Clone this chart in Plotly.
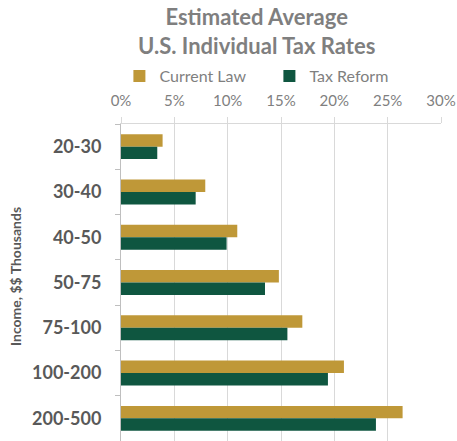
import plotly.graph_objects as go

categories = ["20-30", "30-40", "40-50", "50-75", "75-100", "100-200", "200-500"]
current_law = [3.9, 7.9, 10.9, 14.8, 17.0, 20.9, 26.4]
tax_reform = [3.4, 7.0, 9.9, 13.5, 15.6, 19.4, 23.9]
x_ticks = [0, 5, 10, 15, 20, 25, 30]
x_tick_labels = ["0%", "5%", "10%", "15%", "20%", "25%", "30%"]

GOLD = "#BF9838"
GREEN = "#0F5640"
FONT = "Lato"

PLOT_L, PLOT_R, PLOT_T, PLOT_B = 121, 441, 124, 441
PW, PH = PLOT_R - PLOT_L, PLOT_B - PLOT_T

fig = go.Figure()
fig.add_trace(go.Bar(y=categories, x=current_law, orientation="h", name="Current Law",
                     marker=dict(color=GOLD, line=dict(width=0))))
fig.add_trace(go.Bar(y=categories, x=tax_reform, orientation="h", name="Tax Reform",
                     marker=dict(color=GREEN, line=dict(width=0))))

fig.update_layout(
    width=457, height=441,
    margin=dict(l=PLOT_L, r=457 - PLOT_R, t=PLOT_T, b=441 - PLOT_B, autoexpand=False),
    paper_bgcolor="white", plot_bgcolor="white",
    barmode="group", bargap=0.45, bargroupgap=0,
    font=dict(family=FONT, color="#7F7F7F"),
    legend=dict(orientation="h", x=-0.005, xanchor="left", y=(PLOT_B - 76) / PH,
                yanchor="middle",
                font=dict(size=16, color="#7F7F7F", family=FONT),
                itemwidth=30, entrywidth=105, bgcolor="rgba(0,0,0,0)"),
    xaxis=dict(side="top", range=[0, 30], tickvals=x_ticks, ticktext=x_tick_labels,
               showgrid=True, gridcolor="#D9D9D9", gridwidth=1,
               zeroline=False, showline=True, linecolor="#D9D9D9", linewidth=1,
               ticks="outside", ticklen=6, tickcolor="#D9D9D9",
               tickfont=dict(size=15, color="#7F7F7F", family=FONT),
               ticklabelstandoff=5, automargin=False,
               fixedrange=True),
    yaxis=dict(autorange="reversed", showline=True, linecolor="#BFBFBF", linewidth=1,
               ticks="outside", ticklen=5, tickcolor="#BFBFBF",
               tickson="boundaries", automargin=False,
               tickfont=dict(size=18, color="#595959", family=FONT),
               ticklabelstandoff=15, fixedrange=True),
    annotations=[
        dict(text="<b>Estimated Average<br>U.S. Individual Tax Rates</b>",
             xref="paper", yref="paper", x=(256 - PLOT_L) / PW, y=(PLOT_B - 31) / PH,
             showarrow=False, xanchor="center", yanchor="middle",
             font=dict(size=22, color="#7F7F7F", family=FONT)),
        dict(text="<b>Income, $$ Thousands</b>", textangle=-90,
             xref="paper", yref="paper", x=(15 - PLOT_L) / PW, y=(PLOT_B - 277) / PH,
             showarrow=False, xanchor="center", yanchor="middle",
             font=dict(size=14, color="#595959", family=FONT)),
    ],
)

fig.update_yaxes(tickprefix="<b>", ticksuffix="</b>")
fig.write_html("out.html", config={"displayModeBar": False},
               post_script="document.body.style.margin='0';")
